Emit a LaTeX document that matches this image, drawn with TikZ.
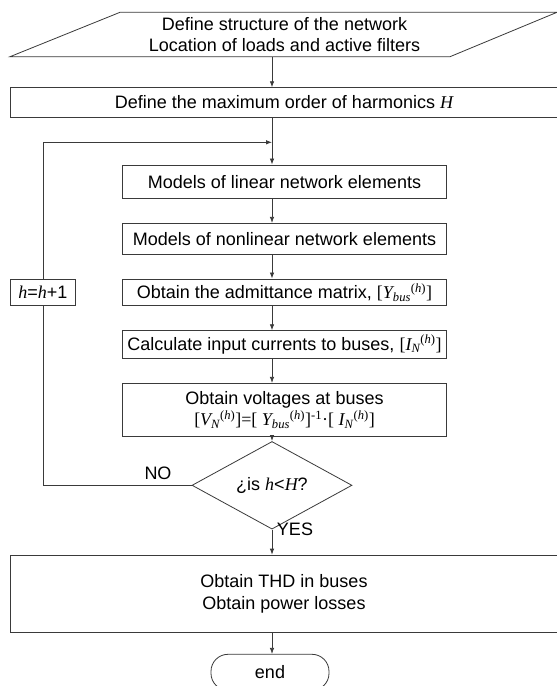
\documentclass[tikz,border=0pt]{standalone}
\usepackage{fontspec}
\setmainfont{Liberation Sans}
\newfontfamily\mfam{Liberation Serif}
\usetikzlibrary{arrows.meta,shapes.geometric}
\definecolor{linec}{HTML}{3A3A3A}
\newcommand{\mi}[1]{{\mfam\itshape #1}}
\newcommand{\mr}[1]{{\mfam #1}}
\begin{document}
\begin{tikzpicture}[x=1pt,y=-1pt,
  every node/.style={font=\fontsize{18}{21.8}\selectfont, text=black},
  box/.style={draw=linec, line width=0.8pt, rectangle, inner sep=0pt, align=center},
  lbl/.style={inner sep=0pt},
  conn/.style={draw=linec, line width=0.8pt},
  arr/.style={conn, -{Latex[length=6pt,width=4.5pt]}}]
\useasboundingbox (0,0) rectangle (557,686);
\fill[white] (0,0) rectangle (557,686);
\coordinate (ax) at (272,0);
% input parallelogram
\coordinate (p1) at (120,12.3);
\coordinate (p2) at (557,12.3);
\coordinate (p3) at (450,56.7);
\coordinate (p4) at (10,56.7);
\draw[conn] (p1) -- (p2) -- (p3) -- (p4) -- cycle;
\node[lbl, align=center, minimum height=44.4pt] (inp) at (284.5,34.5)
  {Define structure of the network\\Location of loads and active filters};
% boxes
\node[box, minimum width=548pt, minimum height=29.6pt] (b2) at (284,102.5)
  {Define the maximum order of harmonics \mi{H}};
\node[box, minimum width=324.4pt, minimum height=33.5pt] (b3) at (284.5,181.7)
  {Models of linear network elements};
\node[box, minimum width=324.4pt, minimum height=31pt] (b4) at (284.5,238.8)
  {Models of nonlinear network elements};
\node[box, minimum width=324.4pt, minimum height=26.7pt] (b5) at (284.5,292.3)
  {Obtain the admittance matrix, \mr{[}\mi{Y}\textsubscript{\mi{bus}}\textsuperscript{\mr{(}\mi{h}\mr{)}}\mr{]}};
\node[box, minimum width=324.4pt, minimum height=27.8pt] (b6) at (284.5,344.6)
  {Calculate input currents to buses, \mr{[}\mi{I}\textsubscript{\mi{N}}\textsuperscript{\mr{(}\mi{h}\mr{)}}\mr{]}};
\node[box, minimum width=324.4pt, minimum height=53.4pt] (b7) at (284.5,410)
  {Obtain voltages at buses\\
   \mr{[}\mi{V}\textsubscript{\mi{N}}\textsuperscript{\mr{(}\mi{h}\mr{)}}\mr{]=[ }\mi{Y}\textsubscript{\mi{bus}}\textsuperscript{\mr{(}\mi{h}\mr{)}}\mr{]}\textsuperscript{\mr{-1}}\mr{·[ }\mi{I}\textsubscript{\mi{N}}\textsuperscript{\mr{(}\mi{h}\mr{)}}\mr{]}};
\node[box, minimum width=65.7pt, minimum height=26.7pt] (hb) at (42.9,292.3)
  {\mi{h}=\mi{h}+1};
\node[draw=linec, line width=0.8pt, diamond, inner sep=0pt, minimum width=160pt, minimum height=46pt] (dia) at (272,485.3)
  {¿is \mi{h}<\mi{H}?};
\node[box, minimum width=548pt, minimum height=77.7pt] (b8) at (284,593.9)
  {Obtain THD in buses\\Obtain power losses};
\node[box, rounded corners=17pt, minimum width=118pt, minimum height=36pt] (endn) at (270,672.3)
  {end};
% labels
\node[lbl] (no) at (158,473) {NO};
\node[lbl] (yes) at (295,529) {YES};
% connectors
\draw[arr] (ax |- p3) -- (b2.north -| ax);
\draw[arr] (b2.south -| ax) -- (b3.north -| ax);
\draw[arr] (b3.south -| ax) -- (b4.north -| ax);
\draw[arr] (b4.south -| ax) -- (b5.north -| ax);
\draw[arr] (b5.south -| ax) -- (b6.north -| ax);
\draw[arr] (b6.south -| ax) -- (b7.north -| ax);
\draw[arr] (b7.south -| ax) -- (dia.north);
\draw[arr] (dia.south) -- (b8.north -| ax);
\draw[arr] (b8.south -| ax) -- (endn.north -| ax);
\coordinate (loopc) at (272,142.3);
\draw[conn] (dia.west) -| (hb.south);
\draw[arr] (hb.north) |- (loopc);
\end{tikzpicture}
\end{document}
